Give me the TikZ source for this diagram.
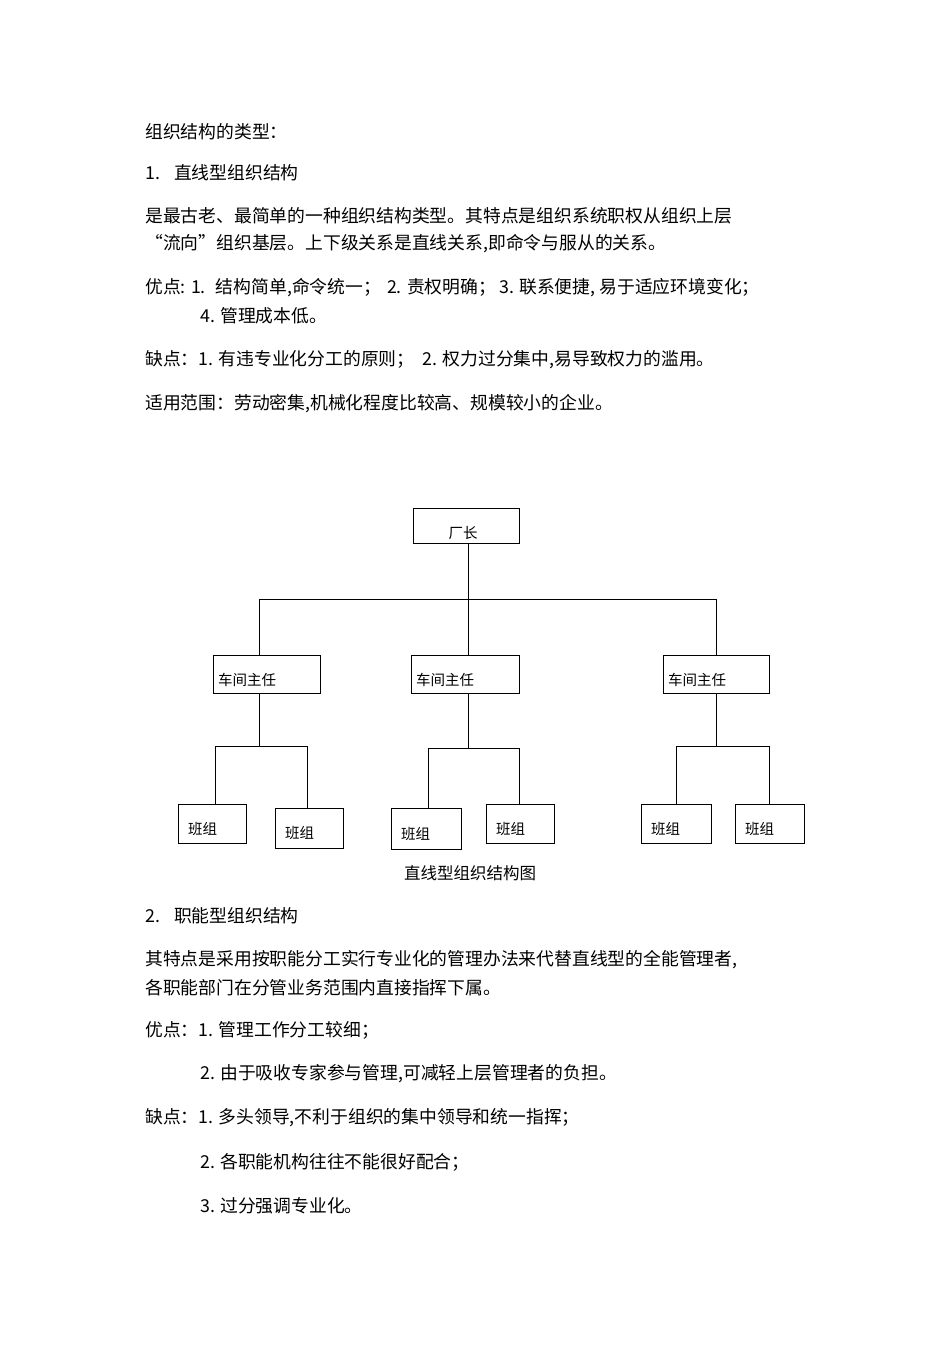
\documentclass[tikz,border=0pt]{standalone}
\usepackage{fontspec}
\newfontfamily\cjk{Noto Sans CJK SC}
\begin{document}
\begin{tikzpicture}[x=1pt,y=-1pt,
  txt/.style={anchor=west,inner sep=0pt,font=\cjk\fontsize{17.8}{20}\selectfont},
  box/.style={draw,line width=1pt,minimum height=38pt,inner sep=0pt},
  lbl/.style={font=\cjk\fontsize{14.5}{18}\selectfont},
  ln/.style={line width=1pt}]
\useasboundingbox (0,0) rectangle (950,1345);
\fill[white] (0,0) rectangle (950,1345);
\node[txt] (t1) at (145,132) {组织结构的类型：};
\node[txt] (t2) at (145,173) {1.\hspace{14pt}直线型组织结构};
\node[txt] (t3) at (145,216) {是最古老、最简单的一种组织结构类型。其特点是组织系统职权从组织上层};
\node[txt] (t4) at (145,244) {“流向”组织基层。上下级关系是直线关系,即命令与服从的关系。};
\node[txt] (t5) at (145,288) {优点: 1.\hspace{10pt}结构简单,命令统一；\hspace{6pt}2. 责权明确；\hspace{3pt}3. 联系便捷, 易于适应环境变化；};
\node[txt] (t6) at (200,316) {4. 管理成本低。};
\node[txt] (t7) at (145,360) {缺点：1. 有违专业化分工的原则；\hspace{8pt}2. 权力过分集中,易导致权力的滥用。};
\node[txt] (t8) at (145,404) {适用范围：劳动密集,机械化程度比较高、规模较小的企业。};
% chart
\node[box,minimum width=106pt,minimum height=35pt] (cz) at (466,525.5) {};
\node[lbl,anchor=base] at (463,538) {厂长};
\node[box,minimum width=107pt] (m1) at (266.5,674) {};
\node[box,minimum width=108pt] (m2) at (465,674) {};
\node[box,minimum width=106pt] (m3) at (716,674) {};
\foreach \m in {m1,m2,m3}{\node[lbl,anchor=west] at ([xshift=2pt,yshift=-6pt]\m.west) {车间主任};}
\node[box,minimum width=68pt,minimum height=39pt] (b1) at (212,823.5) {};
\node[box,minimum width=68pt,minimum height=40pt] (b2) at (309,828) {};
\node[box,minimum width=70pt,minimum height=41pt] (b3) at (426,828.5) {};
\node[box,minimum width=68pt,minimum height=39pt] (b4) at (520,823.5) {};
\node[box,minimum width=70pt,minimum height=39pt] (b5) at (676,823.5) {};
\node[box,minimum width=69pt,minimum height=39pt] (b6) at (769.5,823.5) {};
\foreach \b in {b1,b2,b3,b4,b5,b6}{\node[lbl,anchor=west] at ([xshift=7pt,yshift=-5pt]\b.west) {班组};}
\coordinate (h0) at (468,599);
\draw[ln] (468,543) -- (h0);
\draw[ln] (259,655) -- (259,599) -- (716,599) -- (716,655);
\draw[ln] (h0) -- (468,655);
\draw[ln] (259,693) -- (259,746);
\draw[ln] (215,804) -- (215,746) -- (307,746) -- (307,808);
\draw[ln] (468,693) -- (468,748);
\draw[ln] (428,808) -- (428,748) -- (519,748) -- (519,804);
\draw[ln] (716,693) -- (716,746);
\draw[ln] (676,804) -- (676,746) -- (769,746) -- (769,804);
\node[lbl,font=\cjk\fontsize{16.5}{20}\selectfont] (cap) at (470,873) {直线型组织结构图};
\node[txt] (s1) at (145,916) {2.\hspace{14pt}职能型组织结构};
\node[txt] (s2) at (145,960) {其特点是采用按职能分工实行专业化的管理办法来代替直线型的全能管理者,};
\node[txt] (s3) at (145,988) {各职能部门在分管业务范围内直接指挥下属。};
\node[txt] (s4) at (145,1030) {优点：1. 管理工作分工较细；};
\node[txt] (s5) at (200,1074) {2. 由于吸收专家参与管理,可减轻上层管理者的负担。};
\node[txt] (s6) at (145,1118) {缺点：1. 多头领导,不利于组织的集中领导和统一指挥；};
\node[txt] (s7) at (200,1162) {2. 各职能机构往往不能很好配合；};
\node[txt] (s8) at (200,1206) {3. 过分强调专业化。};
\end{tikzpicture}
\end{document}
